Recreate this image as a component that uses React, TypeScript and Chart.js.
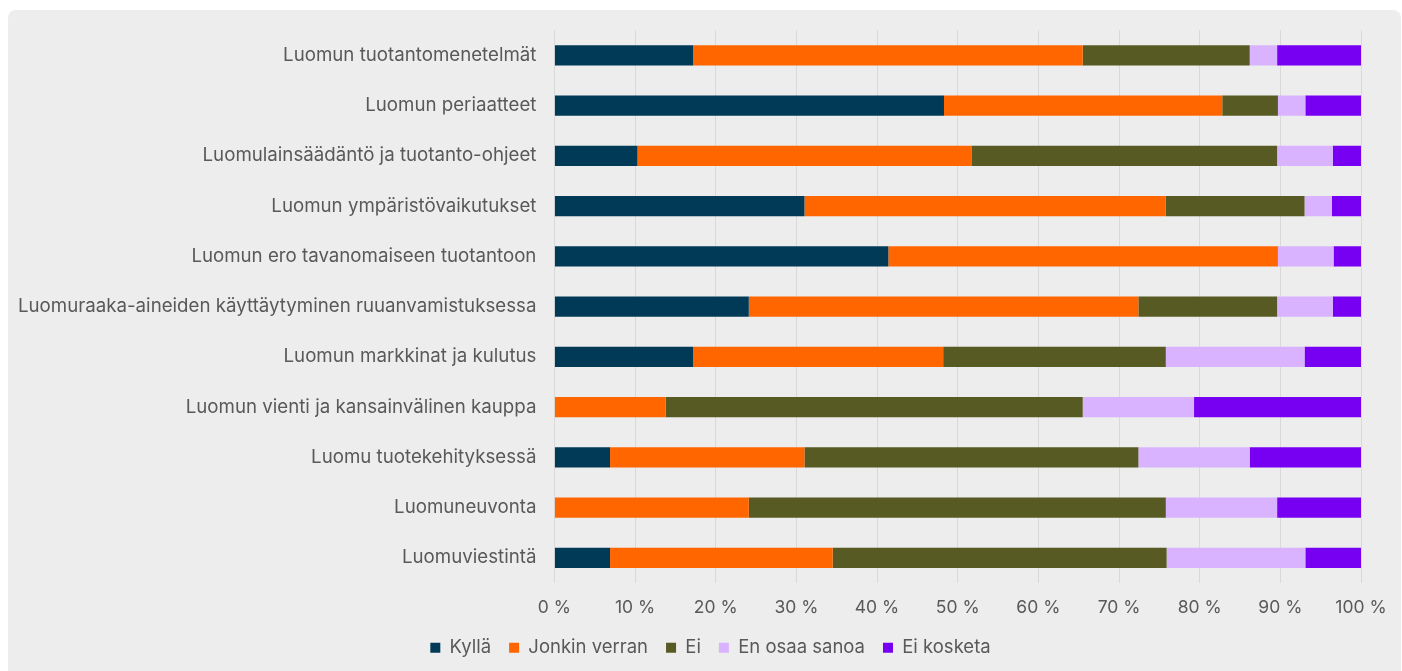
import React, { useEffect, useRef } from "react";
import { Chart, registerables } from "chart.js";

Chart.register(...registerables);

const categories = [
  "Luomun tuotantomenetelmät",
  "Luomun periaatteet",
  "Luomulainsäädäntö ja tuotanto-ohjeet",
  "Luomun ympäristövaikutukset",
  "Luomun ero tavanomaiseen tuotantoon",
  "Luomuraaka-aineiden käyttäytyminen ruuanvamistuksessa",
  "Luomun markkinat ja kulutus",
  "Luomun vienti ja kansainvälinen kauppa",
  "Luomu tuotekehityksessä",
  "Luomuneuvonta",
  "Luomuviestintä",
];

const seriesNames = ["Kyllä", "Jonkin verran", "Ei", "En osaa sanoa", "Ei kosketa"];
const seriesColors = ["#003a57", "#ff6600", "#575a23", "#d9b3ff", "#7700f2"];

const kylla = [17.2, 48.3, 10.3, 31.0, 41.4, 24.1, 17.2, 0, 6.9, 0, 6.9];
const jonkinVerran = [48.3, 34.5, 41.4, 44.8, 48.3, 48.3, 31.0, 13.8, 24.1, 24.1, 27.6];
const ei = [20.7, 6.9, 37.9, 17.2, 0, 17.2, 27.6, 51.7, 41.4, 51.7, 41.4];
const enOsaaSanoa = [3.4, 3.4, 6.9, 3.4, 6.9, 6.9, 17.2, 13.8, 13.8, 13.8, 17.2];
const eiKosketa = [10.4, 6.9, 3.5, 3.6, 3.4, 3.5, 7.0, 20.7, 13.8, 10.4, 6.9];

const seriesValues = [kylla, jonkinVerran, ei, enOsaaSanoa, eiKosketa];

const xTicks = [0, 10, 20, 30, 40, 50, 60, 70, 80, 90, 100];

const FONT = "Inter, 'Noto Sans', sans-serif";
const TEXT = "#595959";

const legendShift = {
  id: "legendShift",
  afterLayout(chart: any) {
    const l = chart.legend;
    if (l) {
      l.left += 30;
      l.right += 30;
    }
  },
};

export default function App() {
  const ref = useRef<HTMLCanvasElement | null>(null);

  useEffect(() => {
    if (!ref.current) return;
    const chart = new Chart(ref.current, {
      type: "bar",
      data: {
        labels: categories,
        datasets: seriesNames.map((name, i) => ({
          label: name,
          data: seriesValues[i],
          backgroundColor: seriesColors[i],
          borderWidth: 0,
          barPercentage: 0.4,
          categoryPercentage: 1,
        })),
      },
      options: {
        indexAxis: "y",
        animation: false,
        responsive: false,
        maintainAspectRatio: false,
        layout: { padding: { top: 0, right: 41, bottom: 4, left: 0 } },
        plugins: {
          legend: {
            position: "bottom",
            labels: {
              boxWidth: 10,
              boxHeight: 10,
              padding: 18,
              color: TEXT,
              font: { family: FONT, size: 18.5 },
            },
          },
          tooltip: { enabled: false },
        },
        scales: {
          x: {
            stacked: true,
            min: 0,
            max: 100,
            afterBuildTicks: (axis: any) => {
              axis.ticks = xTicks.map((v) => ({ value: v }));
            },
            afterFit: (axis: any) => {
              axis.height = 37.5;
            },
            ticks: {
              color: TEXT,
              font: { family: FONT, size: 17.5 },
              padding: 14,
              callback: (v: any) => `${v} %`,
            },
            grid: { color: "#d9d9d9", drawTicks: false, lineWidth: 1 },
            border: { display: false },
          },
          y: {
            stacked: true,
            ticks: {
              color: TEXT,
              font: { family: FONT, size: 18.7 },
              padding: 18,
              autoSkip: false,
            },
            grid: { display: false, drawTicks: false },
            border: { display: false },
          },
        },
      },
      plugins: [legendShift],
    });
    return () => chart.destroy();
  }, []);

  return (
    <>
      <div
        style={{
          position: "fixed",
          left: 8,
          top: 10,
          width: 1393,
          height: 680,
          background: "#ededed",
          borderRadius: 8,
        }}
      />
      <canvas
        ref={ref}
        width={1402}
        height={670}
        style={{ display: "block", position: "fixed", left: 0, top: 1 }}
      />
    </>
  );
}
